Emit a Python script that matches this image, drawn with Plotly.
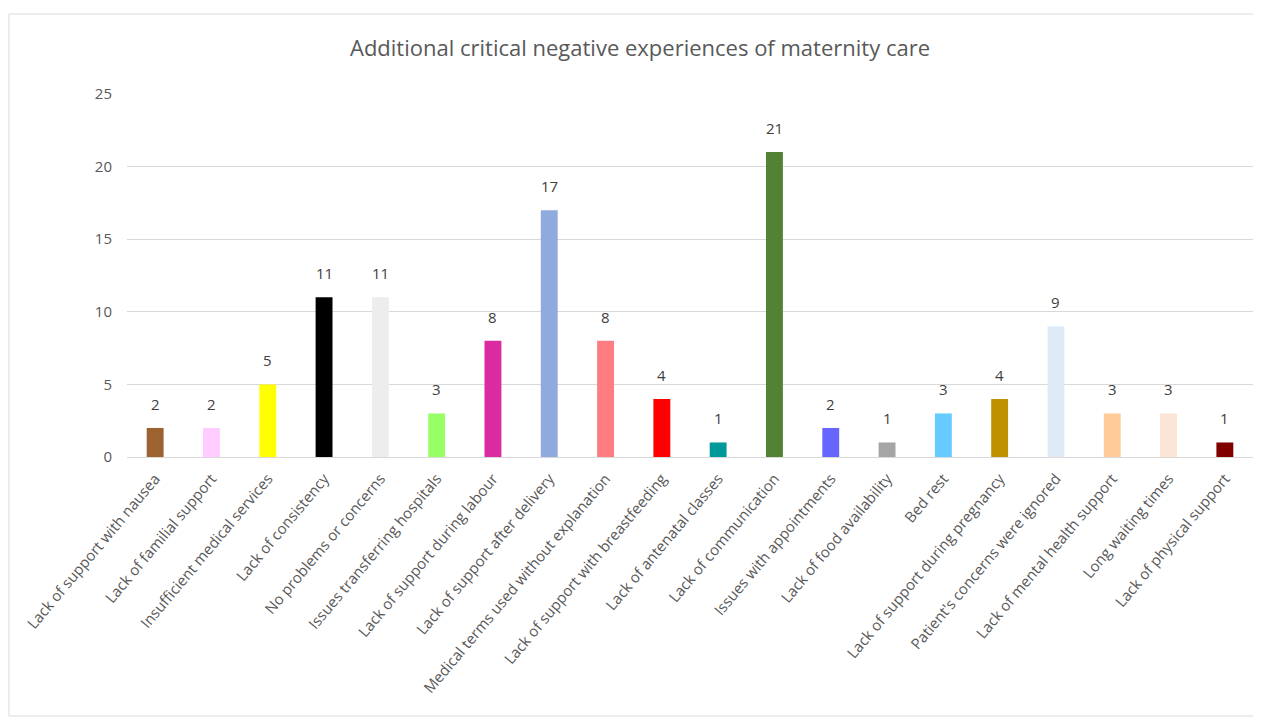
import plotly.graph_objects as go

categories = [
    "Lack of support with nausea", "Lack of familial support", "Insufficient medical services",
    "Lack of consistency", "No problems or concerns", "Issues transferring hospitals",
    "Lack of support during labour", "Lack of support after delivery",
    "Medical terms used without explanation", "Lack of support with breastfeeding",
    "Lack of antenatal classes", "Lack of communication", "Issues with appointments",
    "Lack of food availability", "Bed rest", "Lack of support during pregnancy",
    "Patient's concerns were ignored", "Lack of mental health support",
    "Long waiting times", "Lack of physical support",
]
values = [2, 2, 5, 11, 11, 3, 8, 17, 8, 4, 1, 21, 2, 1, 3, 4, 9, 3, 3, 1]
colors = [
    "#9C6331", "#FFCCFF", "#FFFF00", "#000000", "#EDEDED", "#99FF66", "#DC2AA0",
    "#8FAADC", "#FF7C80", "#FF0000", "#009999", "#548235", "#6666FF", "#A5A5A5",
    "#66CCFF", "#BF9000", "#DEEBF7", "#FFCC99", "#FBE5D6", "#800000",
]
y_ticks = [0, 5, 10, 15, 20, 25]

FONT = "Open Sans, sans-serif"

fig = go.Figure(go.Bar(
    x=categories, y=values, marker=dict(color=colors, line=dict(width=0)),
    hoverinfo="x+y",
))

annotations = [
    dict(x=c, y=v, xref="x", yref="y", text=str(v), showarrow=False,
         yanchor="bottom", yshift=12, font=dict(size=15, color="#404040", family=FONT))
    for c, v in zip(categories, values)
]

W, H = 1253, 711
L, T, R, B = 119, 86, 8, 262
PW, PH = W - L - R, H - T - B

fig.update_layout(
    width=W, height=H,
    margin=dict(l=L, r=R, t=T, b=B, pad=0),
    paper_bgcolor="white", plot_bgcolor="white",
    showlegend=False, bargap=0.7,
    title=dict(text="Additional critical negative experiences of maternity care",
               x=632 / W, xanchor="center", y=1 - 40 / H, yanchor="middle",
               font=dict(size=22, color="#595959", family=FONT)),
    xaxis=dict(tickangle=-50, tickfont=dict(size=15, color="#595959", family=FONT),
               showline=True, linecolor="#D9D9D9", linewidth=1, ticks="",
               showgrid=False, automargin=False, ticklabelstandoff=6),
    yaxis=dict(range=[0, 25], tickvals=y_ticks, showgrid=True, gridcolor="#D9D9D9",
               gridwidth=1, zeroline=False, showline=False, ticks="",
               tickfont=dict(size=15, color="#595959", family=FONT), ticklabelstandoff=14,
               automargin=False),
    annotations=annotations,
    shapes=[dict(type="rect", xref="paper", yref="paper",
                 x0=(1 - L) / PW, x1=(1249 - L) / PW,
                 y0=(T + PH - 708) / PH, y1=(T + PH - 6) / PH,
                 line=dict(color="#D9D9D9", width=1), layer="below")],
)

fig.write_html("out.html")
